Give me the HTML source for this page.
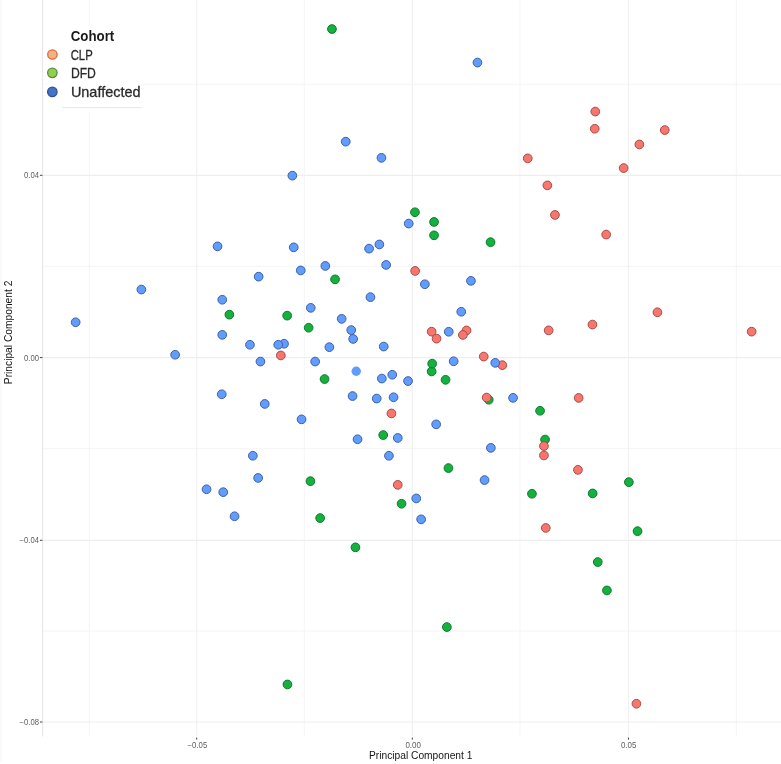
<!DOCTYPE html>
<html lang="en"><head><meta charset="utf-8"><title>PCA scatter plot</title>
<style>
html,body{margin:0;padding:0;background:#fff;}
body{width:781px;height:764px;overflow:hidden;}
svg{display:block;}
.ax{font-family:"Liberation Sans",Arial,sans-serif;fill:#5e5e5e;font-size:8.3px;}
.tt{font-family:"Liberation Sans",Arial,sans-serif;fill:#141414;font-size:11.6px;}
.lg{font-family:"Liberation Sans",Arial,sans-serif;fill:#2a2a2a;stroke:#2a2a2a;stroke-width:0.3;font-size:15px;}
.lgb{font-family:"Liberation Sans",Arial,sans-serif;fill:#1a1a1a;font-size:14.7px;font-weight:bold;}
.b{fill:#619cff;stroke:#3c60a8;stroke-width:1;}
.g{fill:#15b13f;stroke:#0c7a2c;stroke-width:1;}
.r{fill:#f8766d;stroke:#a54d47;stroke-width:1;}
</style></head><body>
<svg width="781" height="764" viewBox="0 0 781 764">
<rect x="0" y="0" width="781" height="764" fill="#ffffff"/>

<line x1="0.9" y1="0" x2="0.9" y2="762" stroke="#f5f5f5" stroke-width="1"/>
<g fill="none">
<line x1="89.3" y1="0" x2="89.3" y2="736.4" stroke="#f4f4f4" stroke-width="0.9"/>
<line x1="304.3" y1="0" x2="304.3" y2="736.4" stroke="#f4f4f4" stroke-width="0.9"/>
<line x1="519.9" y1="0" x2="519.9" y2="736.4" stroke="#f4f4f4" stroke-width="0.9"/>
<line x1="736.4" y1="0" x2="736.4" y2="736.4" stroke="#f4f4f4" stroke-width="0.9"/>
<line x1="42.55" y1="84.2" x2="781" y2="84.2" stroke="#f3f3f3" stroke-width="0.9"/>
<line x1="42.55" y1="266.3" x2="781" y2="266.3" stroke="#f3f3f3" stroke-width="0.9"/>
<line x1="42.55" y1="448.7" x2="781" y2="448.7" stroke="#f3f3f3" stroke-width="0.9"/>
<line x1="42.55" y1="631.0" x2="781" y2="631.0" stroke="#f3f3f3" stroke-width="0.9"/>
<line x1="196.7" y1="0" x2="196.7" y2="736.4" stroke="#f0f0f0" stroke-width="1.1"/>
<line x1="412.3" y1="0" x2="412.3" y2="736.4" stroke="#f0f0f0" stroke-width="1.1"/>
<line x1="628.5" y1="0" x2="628.5" y2="736.4" stroke="#f0f0f0" stroke-width="1.1"/>
<line x1="42.55" y1="175.3" x2="781" y2="175.3" stroke="#eeeeee" stroke-width="1.2"/>
<line x1="42.55" y1="357.6" x2="781" y2="357.6" stroke="#eeeeee" stroke-width="1.2"/>
<line x1="42.55" y1="540.3" x2="781" y2="540.3" stroke="#eeeeee" stroke-width="1.2"/>
<line x1="42.55" y1="722.0" x2="781" y2="722.0" stroke="#eeeeee" stroke-width="1.2"/>
<line x1="42.55" y1="0" x2="42.55" y2="736.4" stroke="#e8e8e8" stroke-width="1.2"/>
</g>
<g stroke="#444" stroke-width="1">
<line x1="196.7" y1="737.6" x2="196.7" y2="739.6"/>
<line x1="412.3" y1="737.6" x2="412.3" y2="739.6"/>
<line x1="628.5" y1="737.6" x2="628.5" y2="739.6"/>
<line x1="39.949999999999996" y1="175.3" x2="42.449999999999996" y2="175.3"/>
<line x1="39.949999999999996" y1="357.6" x2="42.449999999999996" y2="357.6"/>
<line x1="39.949999999999996" y1="540.3" x2="42.449999999999996" y2="540.3"/>
<line x1="39.949999999999996" y1="722.0" x2="42.449999999999996" y2="722.0"/>
</g>
<text class="ax" x="197.4" y="748.0" text-anchor="middle" textLength="19.6" lengthAdjust="spacingAndGlyphs">−0.05</text>
<text class="ax" x="413.2" y="748.0" text-anchor="middle" textLength="15.5" lengthAdjust="spacingAndGlyphs">0.00</text>
<text class="ax" x="628.7" y="748.0" text-anchor="middle" textLength="15.5" lengthAdjust="spacingAndGlyphs">0.05</text>
<text class="ax" x="39.0" y="178.4" text-anchor="end" textLength="15.0" lengthAdjust="spacingAndGlyphs">0.04</text>
<text class="ax" x="39.0" y="360.7" text-anchor="end" textLength="15.0" lengthAdjust="spacingAndGlyphs">0.00</text>
<text class="ax" x="39.0" y="543.4" text-anchor="end" textLength="19.4" lengthAdjust="spacingAndGlyphs">−0.04</text>
<text class="ax" x="39.0" y="725.1" text-anchor="end" textLength="19.4" lengthAdjust="spacingAndGlyphs">−0.08</text>
<text class="tt" x="420.7" y="759.2" text-anchor="middle" textLength="103.4" lengthAdjust="spacingAndGlyphs">Principal Component 1</text>
<text class="tt" transform="translate(12.2,332.4) rotate(-90)" text-anchor="middle" textLength="103.6" lengthAdjust="spacingAndGlyphs">Principal Component 2</text>
<g>
<circle class="g" cx="331.95" cy="29.05" r="4.35"/>
<circle class="g" cx="414.95" cy="212.25" r="4.35"/>
<circle class="g" cx="434.05" cy="221.95" r="4.35"/>
<circle class="g" cx="434.05" cy="235.35" r="4.35"/>
<circle class="g" cx="490.55" cy="242.15" r="4.35"/>
<circle class="g" cx="335.05" cy="279.35" r="4.35"/>
<circle class="g" cx="229.35" cy="314.65" r="4.35"/>
<circle class="g" cx="287.15" cy="315.65" r="4.35"/>
<circle class="g" cx="308.65" cy="327.75" r="4.35"/>
<circle class="g" cx="324.55" cy="379.05" r="4.35"/>
<circle class="g" cx="431.65" cy="371.45" r="4.35"/>
<circle class="g" cx="432.15" cy="363.65" r="4.35"/>
<circle class="g" cx="445.55" cy="379.85" r="4.35"/>
<circle class="g" cx="488.75" cy="399.75" r="4.35"/>
<circle class="g" cx="383.25" cy="435.05" r="4.35"/>
<circle class="g" cx="310.45" cy="481.15" r="4.35"/>
<circle class="g" cx="320.15" cy="518.05" r="4.35"/>
<circle class="g" cx="355.45" cy="547.35" r="4.35"/>
<circle class="g" cx="401.55" cy="503.75" r="4.35"/>
<circle class="g" cx="540.05" cy="410.75" r="4.35"/>
<circle class="g" cx="545.05" cy="439.55" r="4.35"/>
<circle class="g" cx="448.45" cy="468.05" r="4.35"/>
<circle class="g" cx="531.95" cy="493.75" r="4.35"/>
<circle class="g" cx="592.65" cy="493.45" r="4.35"/>
<circle class="g" cx="628.85" cy="482.15" r="4.35"/>
<circle class="g" cx="637.55" cy="531.15" r="4.35"/>
<circle class="g" cx="597.75" cy="562.05" r="4.35"/>
<circle class="g" cx="606.95" cy="590.45" r="4.35"/>
<circle class="g" cx="287.45" cy="684.45" r="4.35"/>
<circle class="g" cx="446.85" cy="627.05" r="4.35"/>
<circle class="r" cx="595.25" cy="111.55" r="4.35"/>
<circle class="r" cx="594.75" cy="128.75" r="4.35"/>
<circle class="r" cx="527.75" cy="158.35" r="4.35"/>
<circle class="r" cx="547.35" cy="185.35" r="4.35"/>
<circle class="r" cx="664.75" cy="130.05" r="4.35"/>
<circle class="r" cx="639.35" cy="144.45" r="4.35"/>
<circle class="r" cx="623.65" cy="168.05" r="4.35"/>
<circle class="r" cx="554.95" cy="214.95" r="4.35"/>
<circle class="r" cx="606.15" cy="234.55" r="4.35"/>
<circle class="r" cx="415.15" cy="270.95" r="4.35"/>
<circle class="r" cx="431.65" cy="331.65" r="4.35"/>
<circle class="r" cx="436.55" cy="338.65" r="4.35"/>
<circle class="r" cx="466.55" cy="330.45" r="4.35"/>
<circle class="r" cx="462.85" cy="334.95" r="4.35"/>
<circle class="r" cx="548.65" cy="330.35" r="4.35"/>
<circle class="r" cx="592.45" cy="324.55" r="4.35"/>
<circle class="r" cx="657.45" cy="312.25" r="4.35"/>
<circle class="r" cx="751.65" cy="331.65" r="4.35"/>
<circle class="r" cx="483.75" cy="356.55" r="4.35"/>
<circle class="r" cx="502.35" cy="365.15" r="4.35"/>
<circle class="r" cx="486.65" cy="397.55" r="4.35"/>
<circle class="r" cx="578.65" cy="397.95" r="4.35"/>
<circle class="r" cx="280.85" cy="355.45" r="4.35"/>
<circle class="r" cx="391.45" cy="413.45" r="4.35"/>
<circle class="r" cx="397.75" cy="484.85" r="4.35"/>
<circle class="r" cx="543.95" cy="446.05" r="4.35"/>
<circle class="r" cx="543.95" cy="455.45" r="4.35"/>
<circle class="r" cx="577.95" cy="469.85" r="4.35"/>
<circle class="r" cx="545.75" cy="527.95" r="4.35"/>
<circle class="r" cx="636.45" cy="703.75" r="4.35"/>
<circle class="b" cx="477.45" cy="62.55" r="4.35"/>
<circle class="b" cx="345.75" cy="141.65" r="4.35"/>
<circle class="b" cx="381.45" cy="157.85" r="4.35"/>
<circle class="b" cx="292.35" cy="175.65" r="4.35"/>
<circle class="b" cx="141.35" cy="289.55" r="4.35"/>
<circle class="b" cx="75.65" cy="322.25" r="4.35"/>
<circle class="b" cx="175.15" cy="354.75" r="4.35"/>
<circle class="b" cx="217.55" cy="246.35" r="4.35"/>
<circle class="b" cx="293.75" cy="247.35" r="4.35"/>
<circle class="b" cx="369.05" cy="248.65" r="4.35"/>
<circle class="b" cx="379.35" cy="244.45" r="4.35"/>
<circle class="b" cx="325.35" cy="265.95" r="4.35"/>
<circle class="b" cx="386.15" cy="264.95" r="4.35"/>
<circle class="b" cx="300.75" cy="270.45" r="4.35"/>
<circle class="b" cx="258.65" cy="276.65" r="4.35"/>
<circle class="b" cx="222.25" cy="299.75" r="4.35"/>
<circle class="b" cx="370.45" cy="297.15" r="4.35"/>
<circle class="b" cx="310.75" cy="307.85" r="4.35"/>
<circle class="b" cx="341.65" cy="318.85" r="4.35"/>
<circle class="b" cx="351.25" cy="330.05" r="4.35"/>
<circle class="b" cx="353.15" cy="338.95" r="4.35"/>
<circle class="b" cx="222.25" cy="334.85" r="4.35"/>
<circle class="b" cx="249.95" cy="344.75" r="4.35"/>
<circle class="b" cx="284.05" cy="343.75" r="4.35"/>
<circle class="b" cx="278.25" cy="344.75" r="4.35"/>
<circle class="b" cx="329.35" cy="347.15" r="4.35"/>
<circle class="b" cx="383.75" cy="346.55" r="4.35"/>
<circle class="b" cx="260.45" cy="361.55" r="4.35"/>
<circle class="b" cx="315.15" cy="361.55" r="4.35"/>
<circle class="b" cx="392.25" cy="374.75" r="4.35"/>
<circle class="b" cx="381.85" cy="378.55" r="4.35"/>
<circle class="b" cx="221.75" cy="394.25" r="4.35"/>
<circle class="b" cx="352.55" cy="396.05" r="4.35"/>
<circle class="b" cx="376.75" cy="398.55" r="4.35"/>
<circle class="b" cx="393.55" cy="397.25" r="4.35"/>
<circle class="b" cx="264.75" cy="403.95" r="4.35"/>
<circle class="b" cx="408.75" cy="223.55" r="4.35"/>
<circle class="b" cx="424.85" cy="284.25" r="4.35"/>
<circle class="b" cx="470.95" cy="280.85" r="4.35"/>
<circle class="b" cx="461.25" cy="311.75" r="4.35"/>
<circle class="b" cx="448.75" cy="331.75" r="4.35"/>
<circle class="b" cx="453.65" cy="361.25" r="4.35"/>
<circle class="b" cx="495.25" cy="362.85" r="4.35"/>
<circle class="b" cx="408.05" cy="381.05" r="4.35"/>
<circle class="b" cx="513.05" cy="397.85" r="4.35"/>
<circle class="b" cx="301.55" cy="419.35" r="4.35"/>
<circle class="b" cx="357.55" cy="439.25" r="4.35"/>
<circle class="b" cx="397.75" cy="437.95" r="4.35"/>
<circle class="b" cx="388.95" cy="455.75" r="4.35"/>
<circle class="b" cx="252.85" cy="455.75" r="4.35"/>
<circle class="b" cx="258.15" cy="477.95" r="4.35"/>
<circle class="b" cx="206.55" cy="489.25" r="4.35"/>
<circle class="b" cx="223.25" cy="492.15" r="4.35"/>
<circle class="b" cx="234.55" cy="516.25" r="4.35"/>
<circle class="b" cx="436.15" cy="424.35" r="4.35"/>
<circle class="b" cx="490.85" cy="447.85" r="4.35"/>
<circle class="b" cx="484.55" cy="480.05" r="4.35"/>
<circle class="b" cx="416.25" cy="498.45" r="4.35"/>
<circle class="b" cx="421.15" cy="519.35" r="4.35"/>
<circle cx="356.25" cy="371.25" r="4.7" fill="#619cff"/>
</g>
<rect x="60" y="26" width="83.5" height="85.5" fill="#ffffff"/>
<rect x="43.4" y="80" width="17" height="8" fill="#ffffff" fill-opacity="0.6"/>
<line x1="62.5" y1="107.6" x2="141.7" y2="107.6" stroke="#e6e6e6" stroke-width="1"/>
<circle cx="52.4" cy="54.5" r="4.7" fill="#f4b183" stroke="#dd6a36" stroke-width="1.3"/>
<circle cx="52.35" cy="72.85" r="4.7" fill="#8fd04e" stroke="#588b33" stroke-width="1.3"/>
<circle cx="52.35" cy="91.9" r="4.7" fill="#4473c5" stroke="#2d4f92" stroke-width="1.3"/>
<text class="lgb" x="70.7" y="40.5" textLength="43.6" lengthAdjust="spacingAndGlyphs">Cohort</text>
<text class="lg" x="70.7" y="59.7" textLength="22" lengthAdjust="spacingAndGlyphs">CLP</text>
<text class="lg" x="70.9" y="78.0" textLength="25" lengthAdjust="spacingAndGlyphs">DFD</text>
<text class="lg" x="70.9" y="97.0" textLength="69.6" lengthAdjust="spacingAndGlyphs">Unaffected</text>
</svg></body></html>
